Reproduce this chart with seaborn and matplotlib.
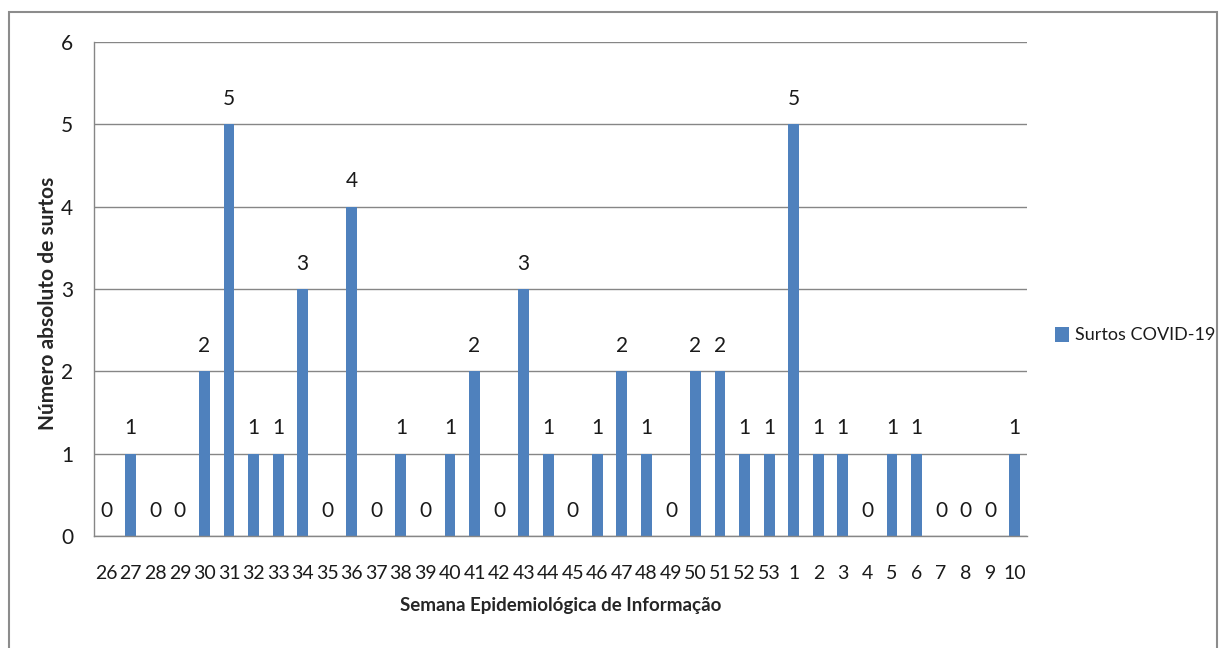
import pandas as pd
import numpy as np
import matplotlib.pyplot as plt
import seaborn as sns
from matplotlib.patches import Rectangle, Patch
from matplotlib.ticker import MultipleLocator, FixedLocator

# --- data ---
weeks = [str(w) for w in range(26, 54)] + [str(w) for w in range(1, 11)]
surtos = [0, 1, 0, 0, 2, 5, 1, 1, 3, 0, 4, 0, 1, 0, 1, 2, 0, 3, 1, 0,
          1, 2, 1, 0, 2, 2, 1, 1, 5, 1, 1, 0, 1, 1, 0, 0, 0, 1]
series_name = 'Surtos COVID-19'
x_title = 'Semana Epidemiológica de Informação'
y_title = 'Número absoluto de surtos'

BAR_COLOR = '#4F81BD'
GRID_COLOR = '#868686'
TEXT_COLOR = '#1a1a1a'

sns.set_style('white')
plt.rcParams['font.family'] = ['Lato', 'DejaVu Sans']

df = pd.DataFrame({'Semana': weeks, 'Surtos': surtos})

fig = plt.figure(figsize=(12.22, 6.48), dpi=100)
ax = fig.add_axes([0.0769, 0.1728, 0.7635, 0.7624])

sns.barplot(data=df, x='Semana', y='Surtos', order=weeks, color=BAR_COLOR,
            width=0.44, saturation=1, linewidth=0, ax=ax)

# value labels
for i, v in enumerate(surtos):
    ax.annotate(str(v), (i, v), xytext=(0, 11), textcoords='offset points',
                ha='center', va='bottom', fontsize=15, color=TEXT_COLOR)

ax.set_xlim(-0.5, len(weeks) - 0.5)
ax.set_ylim(0, 6)
ax.yaxis.set_major_locator(MultipleLocator(1))
ax.grid(axis='y', color=GRID_COLOR, linewidth=1)
ax.set_axisbelow(True)

for s in ['top', 'right']:
    ax.spines[s].set_visible(False)
for s in ['left', 'bottom']:
    ax.spines[s].set_color(GRID_COLOR)
    ax.spines[s].set_linewidth(1)

# tick marks between categories on x, outward marks on y
ax.xaxis.set_minor_locator(FixedLocator(np.arange(-0.5, len(weeks), 1)))
ax.tick_params(axis='x', which='major', length=0, pad=21, labelsize=14, colors=TEXT_COLOR)
ax.tick_params(axis='x', which='minor', length=7, color=GRID_COLOR, width=1)
ax.tick_params(axis='y', which='major', length=6, color=GRID_COLOR, width=1,
               labelsize=15, labelcolor=TEXT_COLOR, pad=9)

ax.set_xlabel(x_title, fontsize=13.5, fontweight='bold', labelpad=11)
ax.set_ylabel(y_title, fontsize=15, fontweight='bold', va='center')
ax.yaxis.set_label_coords(-0.049, 0.47)

# legend at the right side
handles = [Patch(facecolor=BAR_COLOR, edgecolor='none', label=series_name)]
fig.legend(handles=handles, loc='center left', bbox_to_anchor=(0.85, 0.483),
           frameon=False, fontsize=13, handlelength=0.8, handleheight=0.9,
           handletextpad=0.3, labelcolor=TEXT_COLOR)

# outer chart border
fig.patches.append(Rectangle((0.0074, -0.01), 0.9885, 0.9915, transform=fig.transFigure,
                             fill=False, edgecolor='#8c8c8c', linewidth=1.5))

plt.savefig('out.png', dpi=100)
